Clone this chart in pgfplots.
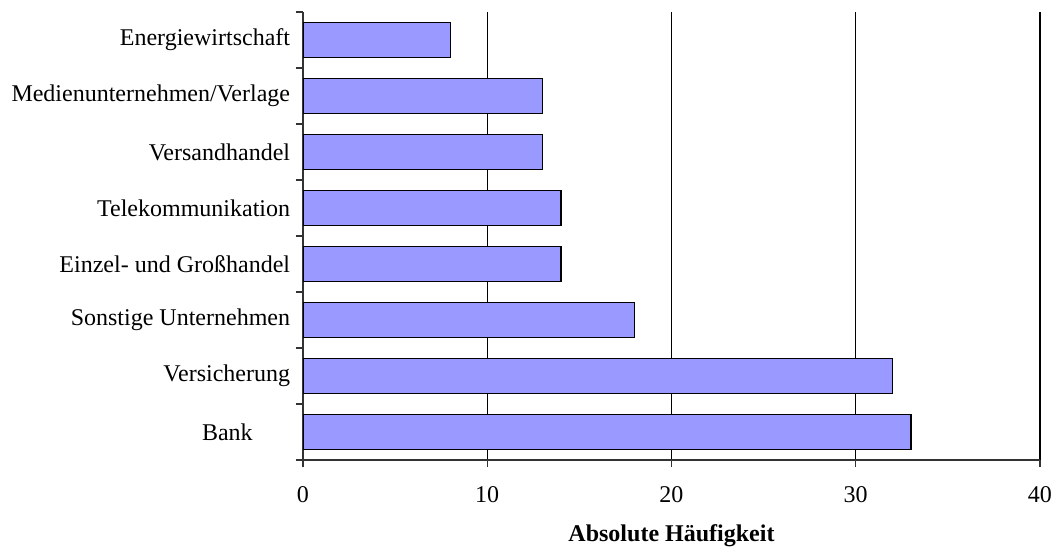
\documentclass[border=0pt]{standalone}
\usepackage{fontspec}
\setmainfont{Liberation Serif}
\usepackage{pgfplots}
\pgfplotsset{compat=1.18}
\definecolor{barfill}{HTML}{9999FF}
\begin{document}
\begin{tikzpicture}[x=0.75pt,y=0.75pt]
\useasboundingbox (-303,-87) rectangle (755,460);
\begin{axis}[
  at={(0,0)}, anchor=south west,
  scale only axis,
  width=552.75pt, height=336pt,
  xbar, bar width=26.25pt,
  xmin=0, xmax=40,
  ymin=-0.5, ymax=7.5,
  xtick={0,10,20,30,40},
  ytick={-0.5,0.5,...,7.5},
  yticklabels={},
  extra y ticks={0,1,2,3,4,5,6,7},
  extra y tick labels={\makebox[66pt][l]{Bank},Versicherung,Sonstige Unternehmen,Einzel- und Großhandel,Telekommunikation,Versandhandel,Medienunternehmen/Verlage,Energiewirtschaft},
  extra y tick style={major tick length=0pt, grid=none},
  axis x line*=bottom, axis y line*=left,
  x axis line style={-, line width=1.2pt, draw=black!80},
  y axis line style={-, line width=1.2pt, draw=black!80},
  xmajorgrids, major grid style={black, line width=0.8pt},
  tick align=outside,
  major tick length=5.5pt,
  tick style={black!80, line width=1pt},
  tick label style={font=\fontsize{18}{21.6}\selectfont},
  /pgf/number format/assume math mode=true,
  yticklabel style={inner sep=0pt, xshift=-9.5pt},
  xticklabel style={inner sep=0pt, yshift=-14pt},
  xlabel={\textbf{Absolute Häufigkeit}},
  xlabel style={font=\fontsize{18}{21.6}\selectfont, yshift=-13pt},
]
\addplot[fill=barfill, draw=black, line width=0.9pt] coordinates {
 (33,0) (32,1) (18,2) (14,3) (14,4) (13,5) (13,6) (8,7)
};
\end{axis}
\end{tikzpicture}
\end{document}
